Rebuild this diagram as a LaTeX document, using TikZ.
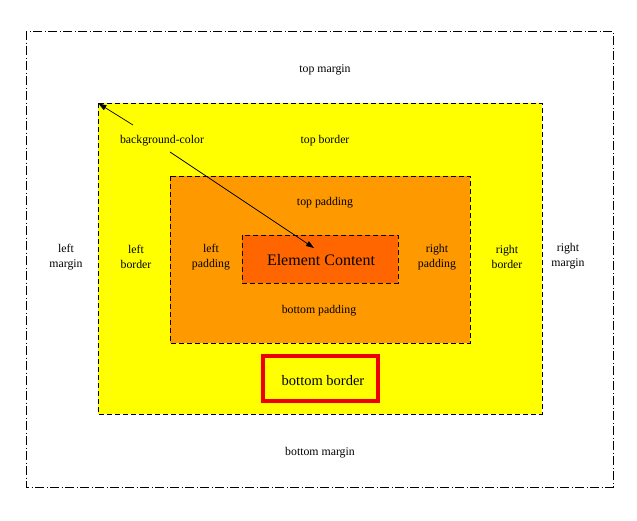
\documentclass[tikz,border=0pt]{standalone}
\usepackage{fontspec}
\setmainfont{Liberation Serif}
\usetikzlibrary{arrows.meta}
\definecolor{boxyellow}{HTML}{FFFF00}
\definecolor{boxorange}{HTML}{FF9900}
\definecolor{boxcontent}{HTML}{FF6600}
\definecolor{boxred}{HTML}{EE0000}
\tikzset{
  lbl/.style={font=\fontsize{11.8}{15.5}\selectfont, align=center, inner sep=0pt},
  dashbox/.style={draw=black, dash pattern=on 5pt off 3pt, line width=0.8pt},
  outerbox/.style={draw=black, dash pattern=on 9pt off 2.5pt on 1pt off 2.5pt, line width=0.8pt},
  pointer/.style={draw=black, line width=0.7pt, -{Triangle[length=8pt,width=5.5pt]}}
}
\begin{document}
\begin{tikzpicture}[x=1pt,y=-1pt]
\useasboundingbox (0,0) rectangle (637,520);
\fill[white] (0,0) rectangle (637,520);
% boxes
\path[outerbox] (26,31) rectangle (613,487);
\path[dashbox, fill=boxyellow] (98,103) rectangle (542,414);
\path[dashbox, fill=boxorange] (170,176) rectangle (470,343);
\path[dashbox, fill=boxcontent] (242,235) rectangle (398,283);
\node[draw=boxred, line width=4pt, minimum width=115pt, minimum height=45pt, inner sep=0pt] (bb) at (320.5,378.5) {};
% labels
\node[lbl] (tm) at (325,70) {top margin};
\node[lbl] (tb) at (325,141) {top border};
\node[lbl] (tp) at (325,203) {top padding};
\node[lbl] (lm) at (66,257) {left\\margin};
\node[lbl] (lb) at (136,257) {left\\border};
\node[lbl] (lp) at (211,257) {left\\padding};
\node[lbl, font=\fontsize{16}{18}\selectfont] (ec) at (321,260) {Element Content};
\node[lbl] (rp) at (437,257) {right\\padding};
\node[lbl] (rb) at (507,257) {right\\border};
\node[lbl] (rm) at (568,256) {right\\margin};
\node[lbl] (bp) at (319,311) {bottom padding};
\node[lbl, font=\fontsize{14.5}{16}\selectfont] (bbt) at (323,380.5) {bottom border};
\node[lbl] (bm) at (320,453) {bottom margin};
\node[lbl] (bg) at (162,141) {background-color};
% arrows
\coordinate (a1s) at (133,125);
\coordinate (a1e) at (98.5,103.5);
\coordinate (a2s) at (170,152);
\coordinate (a2e) at (314,248);
\draw[pointer] (a1s) -- (a1e);
\draw[pointer] (a2s) -- (a2e);
\end{tikzpicture}
\end{document}
